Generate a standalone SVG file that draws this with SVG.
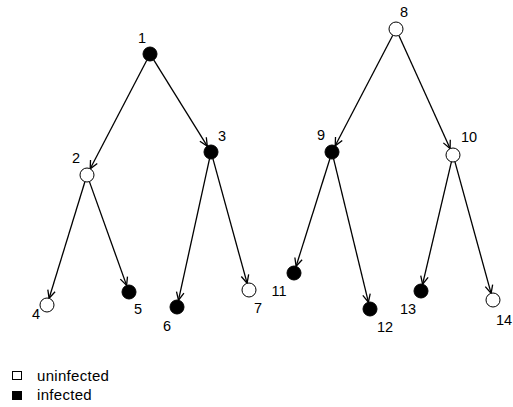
<svg xmlns="http://www.w3.org/2000/svg" width="513" height="407" viewBox="0 0 513 407">
<style>
text{font-family:"Liberation Sans",Arial,sans-serif;font-size:14.5px;fill:#000}
.lbl{text-anchor:middle}
.leg{font-size:15px;letter-spacing:0.3px}
.on{fill:#000;stroke:#000;stroke-width:1}
.off{fill:#fff;stroke:#000;stroke-width:1}
.e{stroke:#000;stroke-width:1.3;fill:none;marker-end:url(#arr)}
</style>
<defs>
<marker id="arr" viewBox="0 0 10 10" refX="9" refY="5" markerWidth="10" markerHeight="10" markerUnits="userSpaceOnUse" orient="auto">
<path d="M1,1.2 L9,5 L1,8.8" fill="none" stroke="#000" stroke-width="1.3"/>
</marker>
</defs>
<rect width="513" height="407" fill="#fff"/>
<g id="connectors">
<line class="e" x1="146.8" y1="60.2" x2="90.2" y2="168.8"/>
<line class="e" x1="153.7" y1="59.9" x2="207.3" y2="146.1"/>
<line class="e" x1="84.9" y1="181.7" x2="49.1" y2="298.3"/>
<line class="e" x1="89.4" y1="181.6" x2="126.6" y2="285.4"/>
<line class="e" x1="209.5" y1="158.8" x2="178.5" y2="300.2"/>
<line class="e" x1="212.9" y1="158.7" x2="247.1" y2="283.2"/>
<line class="e" x1="392.8" y1="35.2" x2="335.2" y2="145.8"/>
<line class="e" x1="398.9" y1="35.4" x2="450.1" y2="148.6"/>
<line class="e" x1="329.9" y1="158.7" x2="296.1" y2="266.3"/>
<line class="e" x1="333.6" y1="158.8" x2="368.4" y2="302.2"/>
<line class="e" x1="451.4" y1="161.8" x2="422.6" y2="284.2"/>
<line class="e" x1="454.9" y1="161.7" x2="491.1" y2="293.3"/>
</g>
<g id="n1"><circle class="on" cx="150" cy="54" r="7"/><text class="lbl" x="142" y="43">1</text></g>
<g id="n2"><circle class="off" cx="87" cy="175" r="7"/><text class="lbl" x="76" y="163">2</text></g>
<g id="n3"><circle class="on" cx="211" cy="152" r="7"/><text class="lbl" x="222" y="141">3</text></g>
<g id="n4"><circle class="off" cx="47" cy="305" r="7"/><text class="lbl" x="36" y="319">4</text></g>
<g id="n5"><circle class="on" cx="129" cy="292" r="7"/><text class="lbl" x="138" y="314">5</text></g>
<g id="n6"><circle class="on" cx="177" cy="307" r="7"/><text class="lbl" x="167" y="331">6</text></g>
<g id="n7"><circle class="off" cx="249" cy="290" r="7"/><text class="lbl" x="258" y="313">7</text></g>
<g id="n8"><circle class="off" cx="396" cy="29" r="7"/><text class="lbl" x="404" y="17">8</text></g>
<g id="n9"><circle class="on" cx="332" cy="152" r="7"/><text class="lbl" x="321" y="140">9</text></g>
<g id="n10"><circle class="off" cx="453" cy="155" r="7"/><text class="lbl" x="469" y="142">10</text></g>
<g id="n11"><circle class="on" cx="294" cy="273" r="7"/><text class="lbl" x="279" y="296">11</text></g>
<g id="n12"><circle class="on" cx="370" cy="309" r="7"/><text class="lbl" x="385" y="332">12</text></g>
<g id="n13"><circle class="on" cx="421" cy="291" r="7"/><text class="lbl" x="408" y="314">13</text></g>
<g id="n14"><circle class="off" cx="493" cy="300" r="7"/><text x="496" y="325">14</text></g>
<g id="legend">
<rect class="off" x="12.5" y="371.5" width="9" height="8"/>
<text class="leg" x="37" y="381">uninfected</text>
<rect class="on" x="12.5" y="391.5" width="9" height="8"/>
<text class="leg" x="37" y="400">infected</text>
</g>
</svg>
